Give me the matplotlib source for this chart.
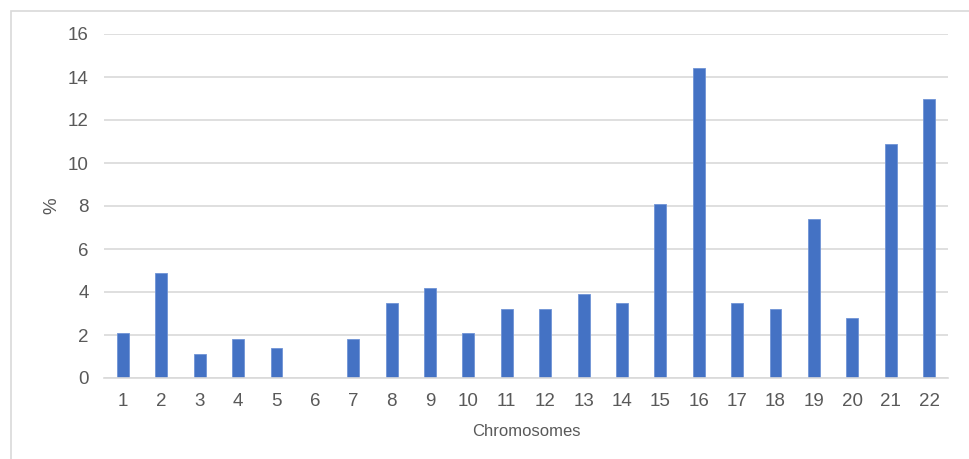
import matplotlib.pyplot as plt
from matplotlib.patches import Rectangle

plt.rcParams['font.family'] = ['Liberation Sans', 'DejaVu Sans']

chromosomes = [str(i) for i in range(1, 23)]
percent = [2.1, 4.9, 1.1, 1.8, 1.4, 0.0, 1.8, 3.5, 4.2, 2.1, 3.2,
           3.2, 3.9, 3.5, 8.1, 14.4, 3.5, 3.2, 7.4, 2.8, 10.9, 13.0]
y_ticks = [0, 2, 4, 6, 8, 10, 12, 14, 16]

text_color = '#595959'
grid_color = '#D9D9D9'
bar_color = '#4472C4'

W, H = 970, 459
fig = plt.figure(figsize=(W / 100, H / 100), dpi=100)
ax = fig.add_axes([103.8 / W, 1 - 378 / H, (948.2 - 103.8) / W, (378 - 34) / H])

# chart frame (open to the right and bottom)
fig.patches.append(Rectangle((11 / W, -0.1), 1.2, 1 - 11 / H + 0.1,
                             transform=fig.transFigure, fill=False,
                             edgecolor='#D9D9D9', linewidth=1.2))

x = range(len(chromosomes))
ax.bar(x, percent, width=0.31, color=bar_color, edgecolor='#6F93D6',
       linewidth=0.6, zorder=3)

ax.set_xlim(-0.5, len(chromosomes) - 0.5)
ax.set_ylim(0, 16)
ax.set_yticks(y_ticks)
ax.set_xticks(list(x))
ax.set_xticklabels(chromosomes)
ax.yaxis.grid(True, color=grid_color, linewidth=1.2, zorder=0)

for side in ['top', 'right', 'left']:
    ax.spines[side].set_visible(False)
ax.spines['bottom'].set_color(grid_color)
ax.spines['bottom'].set_linewidth(1.2)
ax.spines['bottom'].set_zorder(4)

ax.tick_params(axis='both', length=0, labelsize=13.5, labelcolor=text_color)
ax.tick_params(axis='y', pad=11)
ax.tick_params(axis='x', pad=11)

ax.set_xlabel('Chromosomes', fontsize=12, color=text_color, labelpad=10)
ax.set_ylabel('%', fontsize=13.5, color=text_color, labelpad=5)

fig.savefig('out.png', dpi=100, facecolor='white')
